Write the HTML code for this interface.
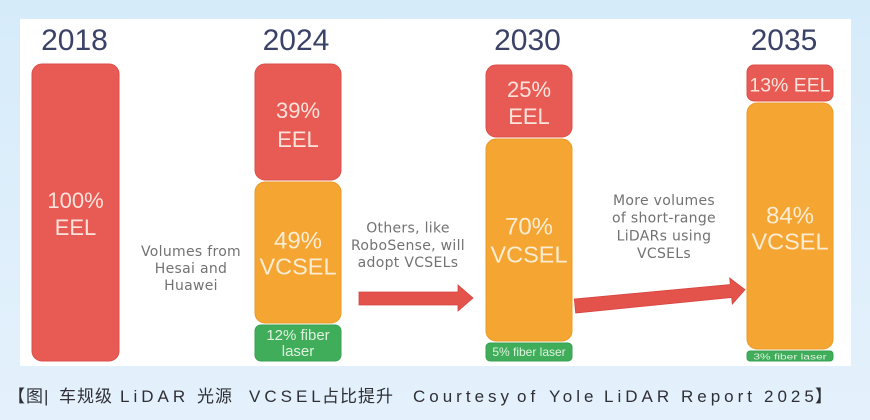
<!DOCTYPE html>
<html>
<head>
<meta charset="utf-8">
<style>
html,body{margin:0;padding:0;}
body{width:870px;height:420px;overflow:hidden;position:relative;
background:linear-gradient(180deg,#d6ebfa 0%,#dfeffb 60%,#e4f1fc 100%);}
#panel{position:absolute;left:20px;top:19px;width:831px;height:347px;background:#ffffff;}
svg{position:absolute;left:0;top:0;}
.cap{position:absolute;top:386px;font-family:"Liberation Sans","Noto Sans CJK SC",sans-serif;font-size:17px;line-height:22px;color:#2f2f35;white-space:nowrap;}
.cj{letter-spacing:1px;}
.la{letter-spacing:4px;}
</style>
</head>
<body>
<div id="panel"></div>
<svg width="870" height="420" viewBox="0 0 870 420" xmlns="http://www.w3.org/2000/svg">
  <!-- years -->
  <g font-family="Liberation Sans, sans-serif" font-size="30" fill="#3b4267" text-anchor="middle">
    <text x="74.5" y="50">2018</text>
    <text x="296" y="50">2024</text>
    <text x="527.5" y="50">2030</text>
    <text x="784" y="50">2035</text>
  </g>

  <!-- 2018 -->
  <rect x="32" y="64" width="87" height="297" rx="10" fill="#e85b54" stroke="#dc4f48" stroke-width="1"/>
  <!-- 2024 -->
  <rect x="255" y="64" width="86" height="116" rx="10" fill="#e85b54" stroke="#dc4f48" stroke-width="1"/>
  <rect x="255" y="182" width="86" height="141" rx="10" fill="#f5a531" stroke="#eb9a28" stroke-width="1"/>
  <rect x="255" y="325" width="86" height="36" rx="6" fill="#40ad5b" stroke="#37a152" stroke-width="1"/>
  <!-- 2030 -->
  <rect x="486" y="65" width="86" height="72" rx="10" fill="#e85b54" stroke="#dc4f48" stroke-width="1"/>
  <rect x="486" y="139" width="86" height="202" rx="10" fill="#f5a531" stroke="#eb9a28" stroke-width="1"/>
  <rect x="486" y="343" width="86" height="18" rx="4" fill="#40ad5b" stroke="#37a152" stroke-width="1"/>
  <!-- 2035 -->
  <rect x="747" y="65" width="86" height="36" rx="7" fill="#e85b54" stroke="#dc4f48" stroke-width="1"/>
  <rect x="747" y="103" width="86" height="246" rx="10" fill="#f5a531" stroke="#eb9a28" stroke-width="1"/>
  <rect x="747" y="351" width="86" height="10" rx="3" fill="#40ad5b" stroke="#37a152" stroke-width="1"/>

  <!-- bar labels -->
  <g font-family="Liberation Sans, sans-serif" text-anchor="middle">
    <g fill="#fde3dc" font-size="22">
      <text x="75.5" y="208">100%</text>
      <text x="75.5" y="235">EEL</text>
      <text x="298" y="118">39%</text>
      <text x="298" y="147">EEL</text>
      <text x="529" y="97">25%</text>
      <text x="529" y="124">EEL</text>
    </g>
    <text x="790" y="91.5" fill="#fde3dc" font-size="19.5">13% EEL</text>
    <g fill="#fdecd4" font-size="24">
      <text x="298" y="248.5">49%</text>
      <text x="298" y="274.5" font-size="23.5">VCSEL</text>
      <text x="529" y="234.5">70%</text>
      <text x="529" y="262.5" font-size="23.5">VCSEL</text>
      <text x="790" y="223.5">84%</text>
      <text x="790" y="249.5" font-size="23.5">VCSEL</text>
    </g>
    <g fill="#dff3df">
      <text x="298" y="340" font-size="15">12% fiber</text>
      <text x="298" y="356" font-size="15">laser</text>
      <text x="529" y="356" font-size="12">5% fiber laser</text>
      <text x="790" y="0" font-size="12" transform="translate(0,359.5) scale(1,0.72)">3% fiber laser</text>
    </g>
  </g>

  <!-- annotations -->
  <g font-family="DejaVu Sans, sans-serif" font-size="14" fill="#727272" text-anchor="middle" letter-spacing="0.3">
    <text x="191" y="256">Volumes from</text>
    <text x="191" y="273">Hesai and</text>
    <text x="191" y="290">Huawei</text>
    <text x="408" y="232.5">Others, like</text>
    <text x="408" y="250">RoboSense, will</text>
    <text x="408" y="267">adopt VCSELs</text>
    <text x="664" y="205">More volumes</text>
    <text x="664" y="222.5">of short-range</text>
    <text x="664" y="240.5">LiDARs using</text>
    <text x="664" y="258">VCSELs</text>
  </g>

  <!-- arrows -->
  <polygon points="359,292 458,292 458,285 473,298 458,311 458,305 359,305" fill="#e4524c" stroke="#d5453f" stroke-width="0.8"/>
  <polygon points="574.3,299 730.3,284.5 729.7,278 745,289.7 732.3,304 731.7,297.5 575.7,313" fill="#e4524c" stroke="#d5453f" stroke-width="0.8"/>
</svg>

<div class="cap" style="left:8px;"><span class="cj">【图</span><span class="la">|</span></div>
<div class="cap cj" style="left:59px;">车规级</div>
<div class="cap la" style="left:120px;">LiDAR</div>
<div class="cap cj" style="left:197px;">光源</div>
<div class="cap la" style="left:249px;">VCSEL</div>
<div class="cap cj" style="left:322px;">占比提升</div>
<div class="cap la" style="left:413px;">Courtesy</div>
<div class="cap la" style="left:517px;">of</div>
<div class="cap la" style="left:549px;">Yole</div>
<div class="cap la" style="left:604px;">LiDAR</div>
<div class="cap la" style="left:681px;">Report</div>
<div class="cap la" style="left:764px;">2025</div>
<div class="cap" style="left:815px;">】</div>
</body>
</html>
